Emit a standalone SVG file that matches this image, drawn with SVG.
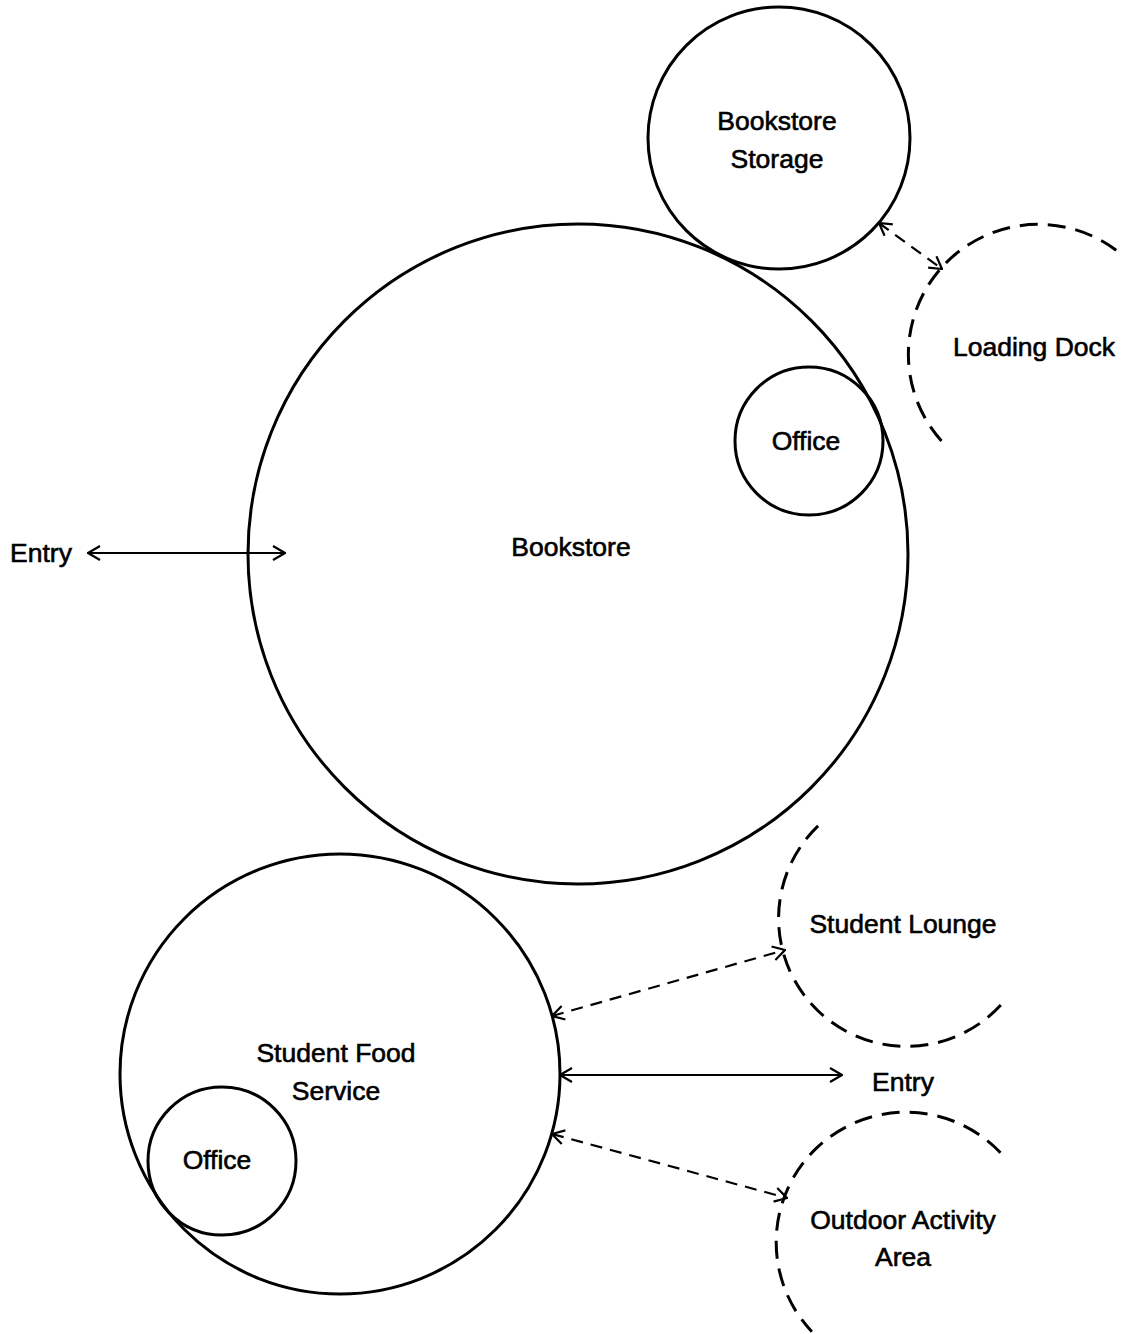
<svg xmlns="http://www.w3.org/2000/svg" width="1122" height="1334" viewBox="0 0 1122 1334">
  <style>
    .room { fill: none; stroke: #000; stroke-width: 3; }
    .ext { fill: none; stroke: #000; stroke-width: 3; stroke-dasharray: 18 10; }
    .link { fill: none; stroke: #000; stroke-width: 2.2; marker-start: url(#tip); marker-end: url(#tip); }
    .dash { stroke-dasharray: 12 8; }
    .label { font-family: "Liberation Sans", Arial, sans-serif; font-size: 26.5px; fill: #000; stroke: #000; stroke-width: 0.6; text-anchor: middle; }
  </style>
  <defs>
    <marker id="tip" viewBox="0 0 14 16" refX="13" refY="8" markerWidth="14" markerHeight="16" markerUnits="userSpaceOnUse" orient="auto-start-reverse">
      <path d="M1,1 L13,8 L1,15" fill="none" stroke="#000" stroke-width="2.2"/>
    </marker>
  </defs>
  <rect width="1122" height="1334" fill="#fff"/>

  <g id="bookstore">
    <circle class="room" cx="578" cy="554" r="330"/>
    <text class="label" x="571" y="556">Bookstore</text>
  </g>
  <g id="bookstore-storage">
    <circle class="room" cx="779" cy="138" r="131"/>
    <text class="label" x="777" y="130">Bookstore</text>
    <text class="label" x="777" y="168">Storage</text>
  </g>
  <g id="bookstore-office">
    <circle class="room" cx="809" cy="441" r="74"/>
    <text class="label" x="806" y="450">Office</text>
  </g>
  <g id="loading-dock">
    <path class="ext" d="M1116.2,250.2 A130,130 0 0 0 946.1,445.9"/>
    <text class="label" x="1034" y="356">Loading Dock</text>
  </g>
  <g id="entry-bookstore">
    <text class="label" x="41" y="562">Entry</text>
  </g>
  <g id="food-service">
    <circle class="room" cx="340" cy="1074" r="220"/>
    <text class="label" x="336" y="1062">Student Food</text>
    <text class="label" x="336" y="1100">Service</text>
  </g>
  <g id="food-office">
    <circle class="room" cx="222" cy="1161" r="74"/>
    <text class="label" x="217" y="1169">Office</text>
  </g>
  <g id="student-lounge">
    <path class="ext" d="M818.1,825.9 A128,128 0 1 0 1002.1,1003.6"/>
    <text class="label" x="903" y="933">Student Lounge</text>
  </g>
  <g id="entry-food">
    <text class="label" x="903" y="1091">Entry</text>
  </g>
  <g id="outdoor-area">
    <path class="ext" d="M1000.5,1152.7 A130,130 0 0 0 811.9,1331.7"/>
    <text class="label" x="903" y="1229">Outdoor Activity</text>
    <text class="label" x="903" y="1266">Area</text>
  </g>

  <g id="connectors">
    <line class="link" x1="88" y1="553" x2="285" y2="553"/>
    <line class="link dash" x1="879" y1="223" x2="942" y2="269"/>
    <line class="link dash" x1="552" y1="1016" x2="785" y2="950"/>
    <line class="link" x1="560" y1="1075" x2="842" y2="1075"/>
    <line class="link dash" x1="552" y1="1134" x2="787" y2="1198"/>
  </g>
</svg>
